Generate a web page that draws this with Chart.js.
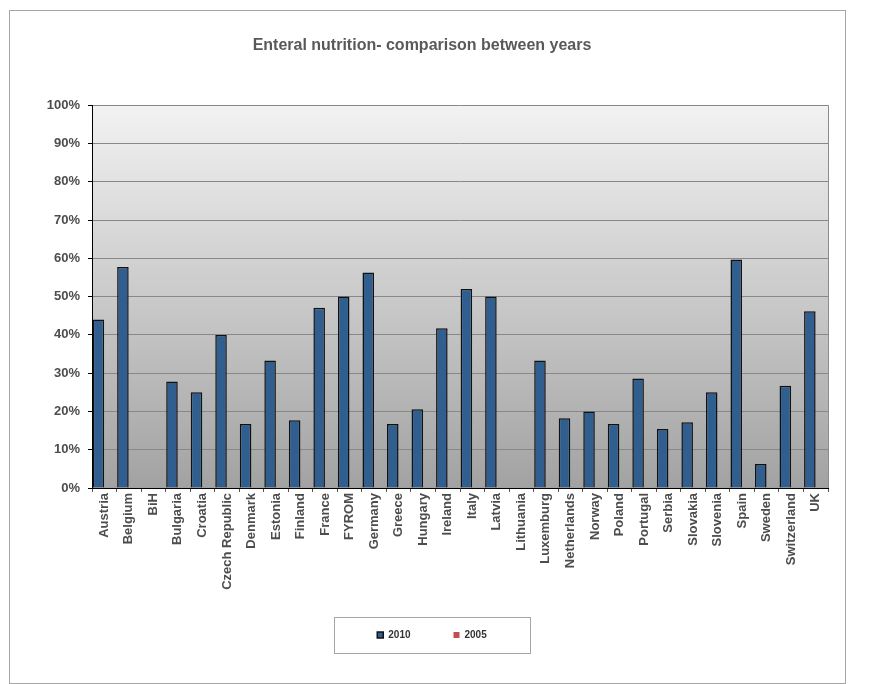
<!DOCTYPE html>
<html>
<head>
<meta charset="utf-8">
<script src="https://cdn.jsdelivr.net/npm/chart.js@4.4.1/dist/chart.umd.min.js"></script>
<style>
  html, body { margin: 0; padding: 0; background: #fff; }
  #wrap { width: 869px; height: 684px; }
</style>
</head>
<body>
<div id="wrap"><canvas id="chart" width="869" height="684"></canvas></div>
<script>
const countries = ['Austria', 'Belgium', 'BiH', 'Bulgaria', 'Croatia', 'Czech Republic', 'Denmark',
  'Estonia', 'Finland', 'France', 'FYROM', 'Germany', 'Greece', 'Hungary', 'Ireland', 'Italy',
  'Latvia', 'Lithuania', 'Luxemburg', 'Netherlands', 'Norway', 'Poland', 'Portugal', 'Serbia',
  'Slovakia', 'Slovenia', 'Spain', 'Sweden', 'Switzerland', 'UK'];
const values2010 = [44.0, 57.7, null, 27.8, 25.0, 40.0, 16.7, 33.3, 17.7, 47.1, 50.0, 56.3, 16.7,
  20.6, 41.7, 52.0, 50.0, null, 33.3, 18.2, 20.0, 16.7, 28.6, 15.4, 17.2, 25.0, 59.7, 6.3, 26.7, 46.2];
const values2005 = countries.map(() => null);
const yTicks = [0, 10, 20, 30, 40, 50, 60, 70, 80, 90, 100];

const font = "'Liberation Sans', Arial, sans-serif";
const legendPad = 43;

// plot background, outer frame, legend frame
const decor = {
  id: 'decor',
  afterLayout(chart) {
    // nudge the legend under the middle of the plot, a bit closer to the labels
    const l = chart.legend;
    l.left += 10; l.right += 10;
    l.top -= 8; l.bottom -= 8;
  },
  beforeDraw(chart) {
    const { ctx, chartArea: a } = chart;
    ctx.save();
    ctx.strokeStyle = '#a6a6a6';
    ctx.lineWidth = 1;
    ctx.strokeRect(9.5, 10.5, 836, 673);
    const g = ctx.createLinearGradient(0, a.top, 0, a.bottom);
    g.addColorStop(0, '#f2f2f2');
    g.addColorStop(1, '#a2a2a2');
    ctx.fillStyle = g;
    ctx.fillRect(a.left, a.top, a.right - a.left, a.bottom - a.top);
    ctx.strokeStyle = '#8c8c8c';
    ctx.beginPath();
    ctx.moveTo(a.right + 0.5, a.top);
    ctx.lineTo(a.right + 0.5, a.bottom);
    ctx.stroke();
    ctx.restore();
  },
  afterDraw(chart) {
    const hb = chart.legend.legendHitBoxes;
    if (!hb || !hb.length) return;
    const last = hb[hb.length - 1];
    const cx = (hb[0].left + last.left + last.width) / 2;
    const cy = hb[0].top + hb[0].height / 2;
    const { ctx } = chart;
    ctx.save();
    ctx.strokeStyle = '#a6a6a6';
    ctx.lineWidth = 1;
    ctx.strokeRect(Math.round(cx - 98) + 0.5, Math.round(cy - 18) + 0.5, 196, 36);
    ctx.restore();
  }
};

new Chart(document.getElementById('chart'), {
  type: 'bar',
  data: {
    labels: countries,
    datasets: [{
      label: '2010',
      data: values2010,
      backgroundColor: '#305f8f',
      borderColor: '#111',
      borderWidth: 1.5,
      borderSkipped: 'bottom'
    }, {
      label: '2005',
      data: values2005,
      backgroundColor: '#c0504d',
      borderColor: '#c0504d',
      borderWidth: 0
    }]
  },
  options: {
    responsive: false,
    animation: false,
    categoryPercentage: 0.96,
    barPercentage: 0.98,
    layout: { padding: { top: 10, left: 16, right: 41, bottom: 26 } },
    plugins: {
      title: {
        display: true,
        text: 'Enteral nutrition- comparison between years',
        color: '#595959',
        font: { family: font, size: 16, weight: 'bold' },
        padding: { top: 26, bottom: 50 }
      },
      legend: {
        position: 'bottom',
        labels: {
          color: '#333',
          font: { family: font, size: 10, weight: 'bold' },
          boxWidth: 6,
          boxHeight: 6,
          padding: legendPad
        }
      },
      tooltip: { enabled: false }
    },
    scales: {
      x: {
        grid: { offset: true, drawOnChartArea: false, drawTicks: true, tickLength: 4, color: '#555' },
        border: { color: '#000', width: 1 },
        ticks: {
          color: '#4d4d4d',
          font: { family: font, size: 13, weight: 'bold' },
          minRotation: 90, maxRotation: 90,
          autoSkip: false,
          padding: 1
        },
        afterFit: (s) => { s.height = 107; }
      },
      y: {
        min: 0,
        max: 100,
        afterBuildTicks: (s) => { s.ticks = yTicks.map((v) => ({ value: v })); },
        grid: { color: '#888', tickColor: '#000', tickLength: 4 },
        border: { color: '#000', width: 1 },
        ticks: {
          color: '#4d4d4d',
          font: { family: font, size: 13, weight: 'bold' },
          padding: 8,
          callback: (v) => v + '%'
        },
        afterFit: (s) => { s.width = 76; }
      }
    }
  },
  plugins: [decor]
});
</script>
</body>
</html>
